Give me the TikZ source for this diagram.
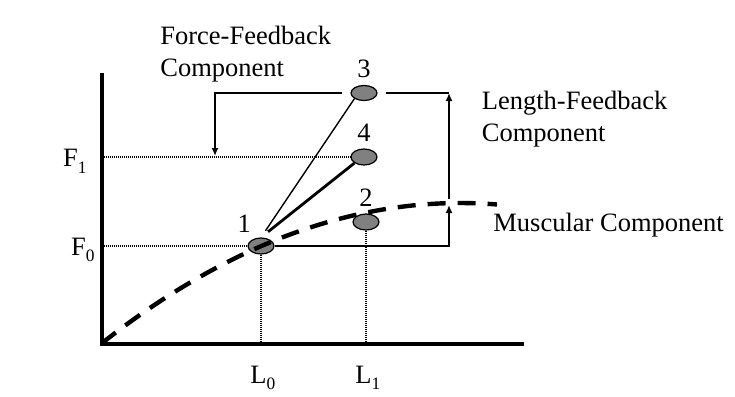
\documentclass[tikz,border=0pt]{standalone}
\usepackage{fontspec}
\setmainfont{Liberation Serif}
\usetikzlibrary{shapes,arrows.meta,positioning,calc}

\newcommand{\lowidx}[1]{\raisebox{-3.3pt}{\fontsize{8.7}{10}\selectfont #1}}

\tikzset{
	pnt/.style={ellipse, draw=black, line width=0.6pt, fill=gray, inner sep=0pt, minimum width=13pt, minimum height=8pt},
	txt/.style={inner sep=0pt, anchor=base west, align=left},
	num/.style={inner sep=0pt},
	axisline/.style={line width=2pt, line cap=rect},
	helpline/.style={line width=0.6pt, dash pattern=on 0.5pt off 0.5pt},
	feedline/.style={line width=1pt},
}

\begin{document}
\begin{tikzpicture}[x=0.5pt, y=-0.5pt, >={Latex[length=4pt,width=3.5pt]}, font=\fontsize{13.25}{16.2}\selectfont]
	\useasboundingbox (0,0) rectangle (735,397);
	%Locations%
	%===========================================================
	\coordinate (origo) at (101.5,343.5); %Corner of the axes
	\coordinate (ytop) at (101.5,75); %Top of force axis
	\coordinate (xend) at (522,343.5); %End of length axis
	\coordinate (f1) at (101.5,157); %Level F1
	\coordinate (f0) at (101.5,246); %Level F0
	\coordinate (ftip) at (215,156); %Tip of force feedback arrow
	\coordinate (ltip) at (449,93); %Tip of length feedback arrow
	\coordinate (lstart) at (449,199); %Start of length feedback arrow
	\coordinate (mtip) at (449,205); %Tip of muscular arrow
	%Points%
	%===========================================================
	\node[pnt] (p1) at (261,246) {};
	\node[pnt] (p2) at (366,222) {};
	\node[pnt, minimum height=7.5pt] (p3) at (364,93) {};
	\node[pnt] (p4) at (364,157) {};
	\node[num, above left=3.5pt and 0pt of p1] (n1) {1};
	\node[num, above=3.5pt of p2] (n2) {2};
	\node[num, above=3.5pt of p3] (n3) {3};
	\node[num, above=3.5pt of p4] (n4) {4};
	%Help lines%
	\draw[helpline] (f1) -- (p4.west); %F1 help line
	\draw[helpline] (f0) -- (p1.west); %F0 help line
	\draw[helpline] (p1.south) -- (p1.south |- origo); %L0 help line
	\draw[helpline] (p2.south) -- (p2.south |- origo); %L1 help line
	%Muscular curve
	\draw[line width=2.2pt, dash pattern=on 9pt off 6pt] (origo) .. controls (233,240.1) and (365,193.9) .. (497,204.5);
	%Axes
	\draw[axisline] (ytop) -- (origo) -- (xend);
	%From 1 to 3 and 4
	\draw[line width=0.7pt, shorten <=4pt] (p1.north) -- (p3.south west);
	\draw[line width=1.4pt, shorten <=4.5pt] (p1.north) -- (p4.south west);
	%Feedback arrows
	\draw[feedline, ->, shorten <=4pt] (p3.west) -| (ftip); %Force feedback
	\draw[feedline, shorten <=4pt] (p3.east) -- (ltip);
	\draw[feedline, ->] (lstart) -- (ltip); %Length feedback
	\draw[feedline, ->] (p1.east) -| (mtip); %Muscular
	%Texts% (base of a two-line text is its last line)
	%===========================================================
	\node[txt] (tforce) at (160,76.7) {Force-Feedback\\Component};
	\node[txt] (tlength) at (481.5,141.7) {Length-Feedback\\Component};
	\node[txt] (tmusc) at (493,231.7) {Muscular Component};
	\node[txt] (tf1) at (62.7,166.7) {F\lowidx{1}};
	\node[txt] (tf0) at (70.7,255) {F\lowidx{0}};
	\node[txt] (tl0) at (250,383.3) {L\lowidx{0}};
	\node[txt] (tl1) at (355,383.3) {L\lowidx{1}};
\end{tikzpicture}
\end{document}
